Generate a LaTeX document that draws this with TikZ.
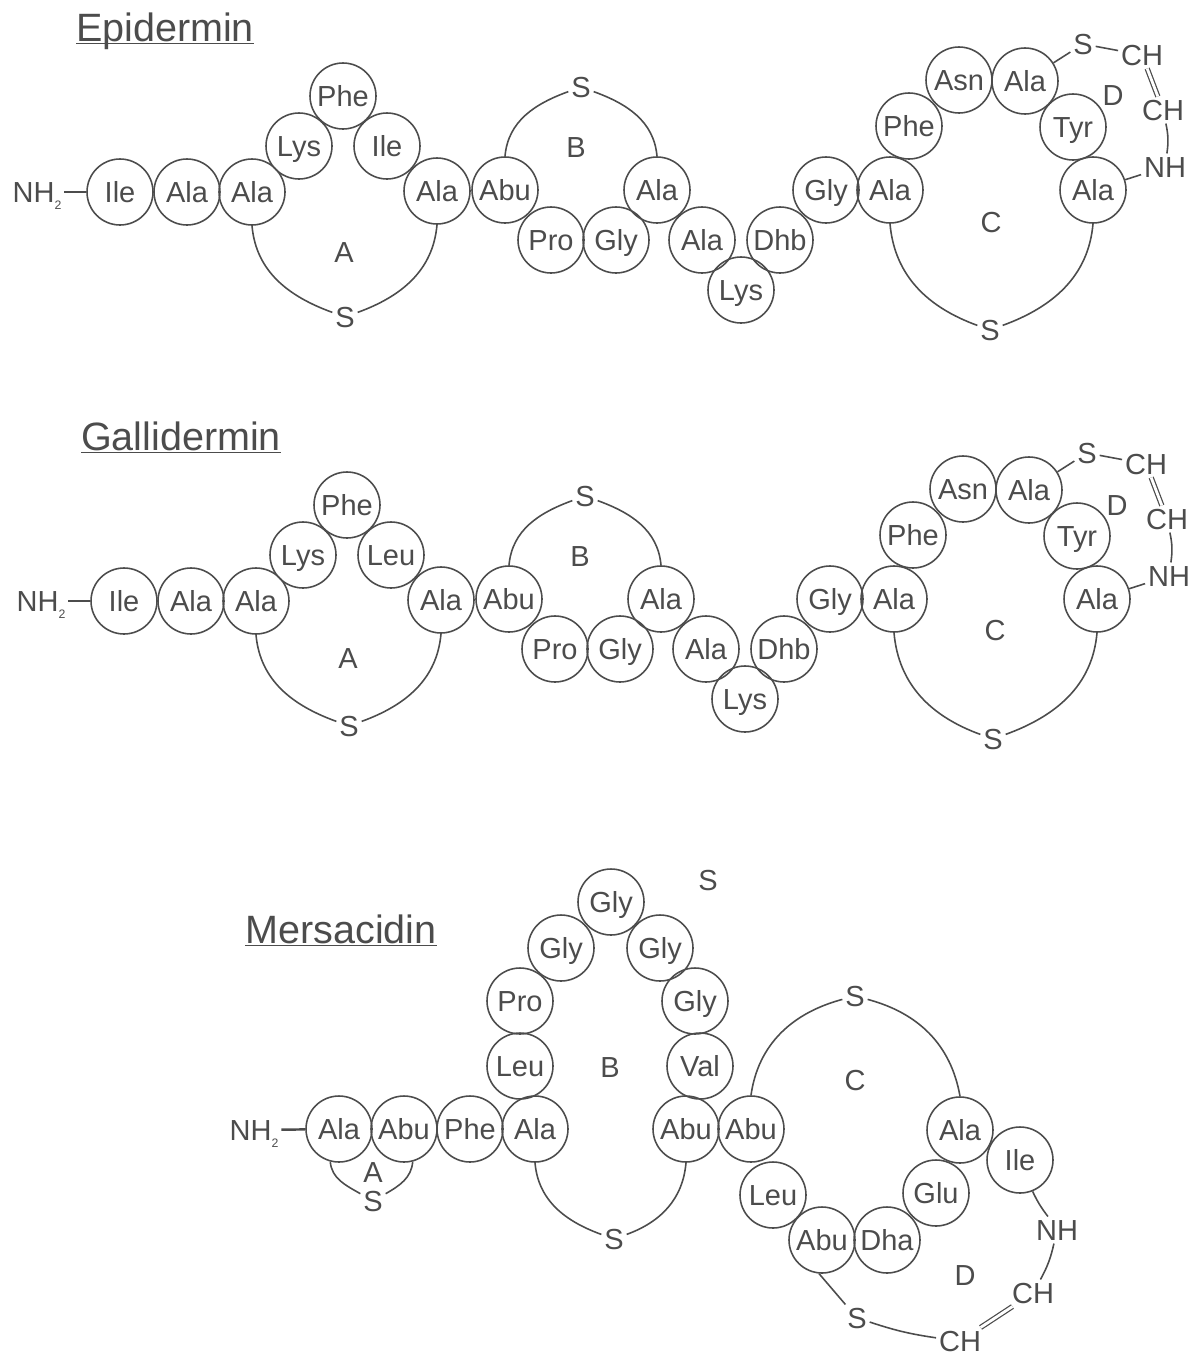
\documentclass[tikz,border=0pt]{standalone}
\usepackage{fontspec}
\setmainfont{Liberation Sans}
\definecolor{inkgray}{gray}{0.3}
\newcommand{\resfont}{\fontsize{16.5}{20}\selectfont}
\newcommand{\titlefont}{\fontsize{22.5}{27}\selectfont}
\newcommand{\nhtwo}{NH\raisebox{-4pt}{\fontsize{7}{7}\selectfont 2}}

\begin{document}
\begin{tikzpicture}[
    x=0.02cm, y=-0.02cm,
    res/.style={draw=inkgray, circle, line width=0.9pt, minimum size=1.32cm, inner sep=0pt,
      font=\resfont, text=inkgray, text height=12pt, text depth=0pt},
    atm/.style={font=\resfont, text=inkgray, inner sep=1.5pt, text height=12pt, text depth=0pt},
    ringlabel/.style={font=\resfont, text=inkgray, inner sep=0pt, text height=12pt, text depth=0pt},
    title/.style={font=\titlefont, text=inkgray, inner sep=0pt, text height=16pt, text depth=0pt},
    link/.style={draw=inkgray, line width=0.9pt},
    nterm/.style={draw=inkgray, line width=1.4pt},
    dbond/.style={draw=inkgray, line width=0.7pt, double, double distance=1.6pt}
  ]
  \useasboundingbox (0,0) rectangle (1191,1356);

  % Epidermin
  \node[title] (ETitle) at (165,27) {\underline{\smash{Epidermin}}};
  \node[atm] (ENH) at (37,192) {\nhtwo};
  \node[res] (EIle1) at (120,192) {Ile};
  \node[res] (EAla1) at (187,192) {Ala};
  \node[res] (EAla2) at (252,192) {Ala};
  \node[res] (ELys1) at (299,146) {Lys};
  \node[res] (EPhe1) at (343,96) {Phe};
  \node[res] (EIle2) at (387,146) {Ile};
  \node[res] (EAla3) at (437,191) {Ala};
  \node[res] (EAbu) at (505,190) {Abu};
  \node[res] (EPro) at (551,240) {Pro};
  \node[res] (EGly1) at (616,240) {Gly};
  \node[res] (EAla4) at (657,190) {Ala};
  \node[res] (EAla5) at (702,240) {Ala};
  \node[res] (ELys2) at (741,290) {Lys};
  \node[res] (EDhb) at (780,240) {Dhb};
  \node[res] (EGly2) at (826,190) {Gly};
  \node[res] (EAla6) at (890,190) {Ala};
  \node[res] (EPhe2) at (909,126) {Phe};
  \node[res] (EAsn) at (959,80) {Asn};
  \node[res] (EAla7) at (1025,81) {Ala};
  \node[res] (ETyr) at (1073,127) {Tyr};
  \node[res] (EAla8) at (1093,190) {Ala};
  \node[atm] (ES1) at (345,317) {S};
  \node[atm] (ES2) at (581,87) {S};
  \node[atm] (ES3) at (990,330) {S};
  \node[atm] (ES4) at (1083,44) {S};
  \node[atm] (ECH1) at (1142,55) {CH};
  \node[atm] (ECH2) at (1163,110) {CH};
  \node[atm] (ENH2) at (1165,167) {NH};
  \node[ringlabel] (ELabA) at (344,252) {A};
  \node[ringlabel] (ELabB) at (576,147) {B};
  \node[ringlabel] (ELabC) at (991,222) {C};
  \node[ringlabel] (ELabD) at (1113,95) {D};

  \draw[nterm] (ENH) -- (EIle1);
  \draw[link] (EAla2.south) to[out=-85,in=160] (ES1);
  \draw[link] (EAla3.south) to[out=-95,in=20] (ES1);
  \draw[link] (EAbu.north) to[out=85,in=200] (ES2);
  \draw[link] (EAla4.north) to[out=95,in=-20] (ES2);
  \draw[link] (EAla6.south) to[out=-85,in=160] (ES3);
  \draw[link] (EAla8.south) to[out=-95,in=20] (ES3);
  \draw[link] (EAla7) -- (ES4);
  \draw[link] (ES4) -- (ECH1);
  \draw[dbond] (ECH1) -- (ECH2);
  \draw[link] (ECH2) to[bend left=10] (ENH2);
  \draw[link] (ENH2) -- (EAla8);

  % Gallidermin
  \node[title] (GTitle) at (181,436) {\underline{\smash{Gallidermin}}};
  \node[atm] (GNH) at (41,601) {\nhtwo};
  \node[res] (GIle) at (124,601) {Ile};
  \node[res] (GAla1) at (191,601) {Ala};
  \node[res] (GAla2) at (256,601) {Ala};
  \node[res] (GLys1) at (303,555) {Lys};
  \node[res] (GPhe1) at (347,505) {Phe};
  \node[res] (GLeu) at (391,555) {Leu};
  \node[res] (GAla3) at (441,600) {Ala};
  \node[res] (GAbu) at (509,599) {Abu};
  \node[res] (GPro) at (555,649) {Pro};
  \node[res] (GGly1) at (620,649) {Gly};
  \node[res] (GAla4) at (661,599) {Ala};
  \node[res] (GAla5) at (706,649) {Ala};
  \node[res] (GLys2) at (745,699) {Lys};
  \node[res] (GDhb) at (784,649) {Dhb};
  \node[res] (GGly2) at (830,599) {Gly};
  \node[res] (GAla6) at (894,599) {Ala};
  \node[res] (GPhe2) at (913,535) {Phe};
  \node[res] (GAsn) at (963,489) {Asn};
  \node[res] (GAla7) at (1029,490) {Ala};
  \node[res] (GTyr) at (1077,536) {Tyr};
  \node[res] (GAla8) at (1097,599) {Ala};
  \node[atm] (GS1) at (349,726) {S};
  \node[atm] (GS2) at (585,496) {S};
  \node[atm] (GS3) at (993,739) {S};
  \node[atm] (GS4) at (1087,453) {S};
  \node[atm] (GCH1) at (1146,464) {CH};
  \node[atm] (GCH2) at (1167,519) {CH};
  \node[atm] (GNH2) at (1169,576) {NH};
  \node[ringlabel] (GLabA) at (348,658) {A};
  \node[ringlabel] (GLabB) at (580,556) {B};
  \node[ringlabel] (GLabC) at (995,630) {C};
  \node[ringlabel] (GLabD) at (1117,505) {D};

  \draw[nterm] (GNH) -- (GIle);
  \draw[link] (GAla2.south) to[out=-85,in=160] (GS1);
  \draw[link] (GAla3.south) to[out=-95,in=20] (GS1);
  \draw[link] (GAbu.north) to[out=85,in=200] (GS2);
  \draw[link] (GAla4.north) to[out=95,in=-20] (GS2);
  \draw[link] (GAla6.south) to[out=-85,in=160] (GS3);
  \draw[link] (GAla8.south) to[out=-95,in=20] (GS3);
  \draw[link] (GAla7) -- (GS4);
  \draw[link] (GS4) -- (GCH1);
  \draw[dbond] (GCH1) -- (GCH2);
  \draw[link] (GCH2) to[bend left=10] (GNH2);
  \draw[link] (GNH2) -- (GAla8);

  % Mersacidin
  \node[title] (MTitle) at (341,929) {\underline{\smash{Mersacidin}}};
  \node[atm] (MNH) at (254,1130) {\nhtwo};
  \node[res] (MAla1) at (339,1129) {Ala};
  \node[res] (MAbu1) at (404,1129) {Abu};
  \node[res] (MPhe) at (470,1129) {Phe};
  \node[res] (MAla2) at (535,1129) {Ala};
  \node[res] (MLeu1) at (520,1066) {Leu};
  \node[res] (MPro) at (520,1001) {Pro};
  \node[res] (MGly1) at (561,948) {Gly};
  \node[res] (MGly2) at (611,902) {Gly};
  \node[res] (MGly3) at (660,948) {Gly};
  \node[res] (MGly4) at (695,1001) {Gly};
  \node[res] (MVal) at (700,1066) {Val};
  \node[res] (MAbu2) at (686,1129) {Abu};
  \node[res] (MAbu3) at (751,1129) {Abu};
  \node[res] (MLeu2) at (773,1195) {Leu};
  \node[res] (MAbu4) at (822,1240) {Abu};
  \node[res] (MDha) at (887,1240) {Dha};
  \node[res] (MGlu) at (936,1193) {Glu};
  \node[res] (MAla3) at (960,1130) {Ala};
  \node[res] (MIle) at (1020,1160) {Ile};
  \node[atm] (MS1) at (373,1201) {S};
  \node[atm] (MS2) at (708,880) {S};
  \node[atm] (MS3) at (614,1239) {S};
  \node[atm] (MS4) at (855,996) {S};
  \node[atm] (MS5) at (857,1318) {S};
  \node[atm] (MNH2) at (1057,1230) {NH};
  \node[atm] (MCH1) at (1033,1293) {CH};
  \node[atm] (MCH2) at (960,1341) {CH};
  \node[ringlabel] (MLabA) at (373,1172) {A};
  \node[ringlabel] (MLabB) at (610,1067) {B};
  \node[ringlabel] (MLabC) at (855,1080) {C};
  \node[ringlabel] (MLabD) at (965,1275) {D};

  \draw[nterm] (MNH) -- (MAla1);
  \draw[link] (MAla1.-105) to[out=-85,in=150] (MS1);
  \draw[link] (MAbu1.-75) to[out=-95,in=30] (MS1);
  \draw[link] (MAla2.south) to[out=-85,in=160] (MS3);
  \draw[link] (MAbu2.south) to[out=-95,in=20] (MS3);
  \draw[link] (MAbu3.north) to[out=82,in=195] (MS4);
  \draw[link] (MAla3.north) to[out=100,in=-15] (MS4);
  \draw[link] (MAbu4.-95) -- (MS5);
  \draw[link] (MS5) to[bend right=5] (MCH2);
  \draw[dbond] (MCH2) -- (MCH1);
  \draw[link] (MCH1) to[bend right=8] (MNH2);
  \draw[link] (MNH2) to[bend left=6] (MIle);

\end{tikzpicture}
\end{document}
